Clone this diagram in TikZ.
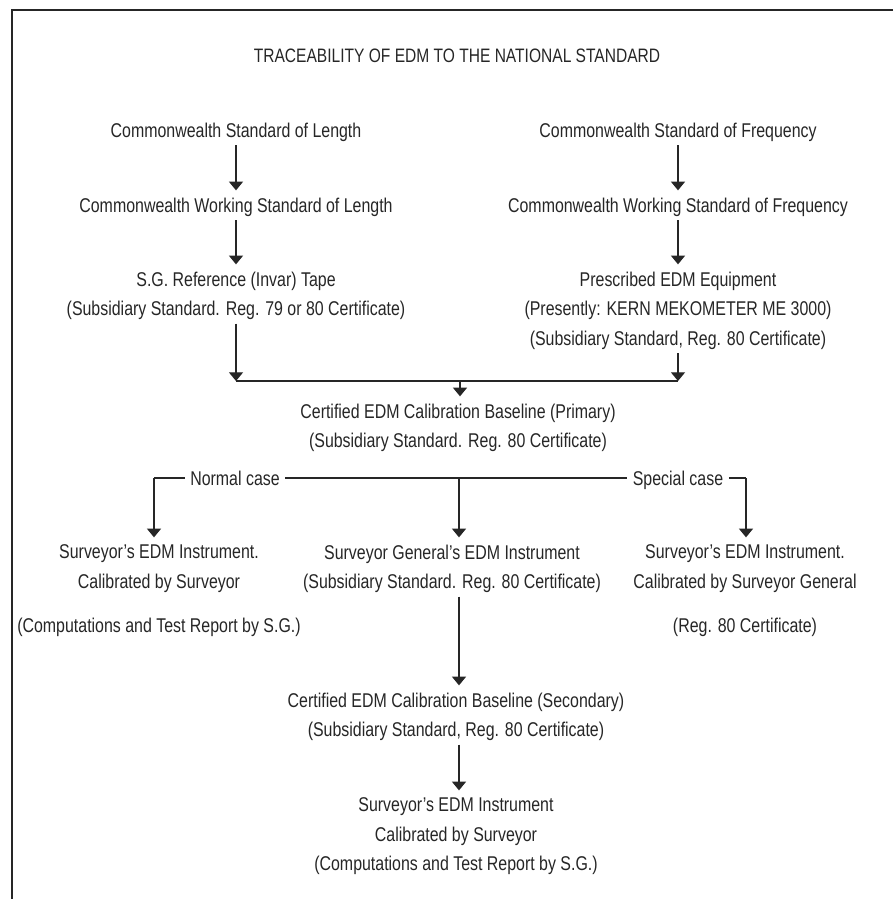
\documentclass[tikz,border=0pt]{standalone}
\usepackage{fontspec}
\setmainfont{Liberation Sans}[FakeStretch=0.8]
\usetikzlibrary{arrows.meta}
\usetikzlibrary{positioning}

\colorlet{ink}{black!85}

\begin{document}
\begin{tikzpicture}[x=0.03cm, y=-0.03cm, line width=1pt, draw=ink,
    lbl/.style={font=\fontsize{17}{25.2}\selectfont, text=ink, align=center, inner sep=0pt, anchor=north},
    casetxt/.style={lbl, anchor=base, inner xsep=1.5mm},
    arr/.style={-{Triangle[width=4.2mm,length=2.6mm]}, shorten <=1mm, shorten >=2mm}]

    \useasboundingbox (0,0) rectangle (893,899);

    % Frame
    \draw[line width=2.2pt] (893,10) -- (12,10) -- (12,899);

    % Title
    \node[lbl, font=\fontsize{16.6}{25.2}\selectfont] (title) at (457,48) {TRACEABILITY OF EDM TO THE NATIONAL STANDARD};

    % LEFT: length chain
    \node[lbl] (csl) at (236,122) {Commonwealth Standard of Length};
    \node[lbl] (cwsl) at (236,197) {Commonwealth Working Standard of Length};
    \node[lbl] (tape) at (236,271) {S.G. Reference (Invar) Tape\\(Subsidiary Standard. Reg. 79 or 80 Certificate)};

    % RIGHT: frequency chain
    \node[lbl] (csf) at (678,122) {Commonwealth Standard of Frequency};
    \node[lbl] (cwsf) at (678,197) {Commonwealth Working Standard of Frequency};
    \node[lbl] (edm) at (678,271) {Prescribed EDM Equipment\\(Presently: KERN MEKOMETER ME 3000)\\(Subsidiary Standard, Reg. 80 Certificate)};

    \draw[arr] (csl.south) -- (cwsl.north);
    \draw[arr] (cwsl.south) -- (tape.north);
    \draw[arr] (csf.south) -- (cwsf.north);
    \draw[arr] (cwsf.south) -- (edm.north);

    % Merge into primary baseline
    \node[lbl] (prim) at (458,403) {Certified EDM Calibration Baseline (Primary)\\(Subsidiary Standard. Reg. 80 Certificate)};
    \coordinate (ml) at (236,381);
    \coordinate (mr) at (678,381);
    \coordinate (mc) at (460,381);
    \draw (ml) -- (mr);
    \draw[arr, shorten >=0pt] (tape.south) -- (ml);
    \draw[arr, shorten >=0pt] (edm.south) -- (mr);
    \draw[arr, shorten <=0pt] (mc) -- (mc |- prim.north);

    % Branches
    \node[casetxt] (normal) at (235,485) {Normal case};
    \node[casetxt] (special) at (678,485) {Special case};
    \coordinate (bl) at (154,478);
    \coordinate (bc) at (459,478);
    \coordinate (br) at (746,478);
    \draw (bl) -- (normal.west |- bl);
    \draw (normal.east |- bl) -- (special.west |- bl);
    \draw (special.east |- bl) -- (br);

    \node[lbl] (svl) at (159,544) {Surveyor's EDM Instrument.\\Calibrated by Surveyor};
    \node[lbl] (svlc) at (159,617) {(Computations and Test Report by S.G.)};
    \node[lbl] (sgi) at (452,544) {Surveyor General's EDM Instrument\\(Subsidiary Standard. Reg. 80 Certificate)};
    \node[lbl] (svr) at (745,544) {Surveyor's EDM Instrument.\\Calibrated by Surveyor General};
    \node[lbl] (svrc) at (745,617) {(Reg. 80 Certificate)};

    \draw[arr, shorten <=0pt] (bl) -- (bl |- svl.north);
    \draw[arr, shorten <=0pt] (bc) -- (bc |- sgi.north);
    \draw[arr, shorten <=0pt] (br) -- (br |- svr.north);

    % Secondary baseline
    \node[lbl] (sec) at (456,692) {Certified EDM Calibration Baseline (Secondary)\\(Subsidiary Standard, Reg. 80 Certificate)};
    \node[lbl] (svb) at (456,797) {Surveyor's EDM Instrument\\Calibrated by Surveyor\\(Computations and Test Report by S.G.)};

    \draw[arr] (bc |- sgi.south) -- (bc |- sec.north);
    \draw[arr] (bc |- sec.south) -- (bc |- svb.north);

\end{tikzpicture}
\end{document}
